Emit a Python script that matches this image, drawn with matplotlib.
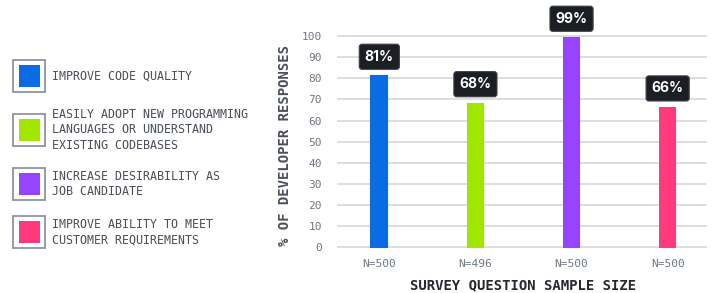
import matplotlib.pyplot as plt
from matplotlib.patches import Rectangle
import numpy as np

categories = ['IMPROVE CODE QUALITY',
              'EASILY ADOPT NEW PROGRAMMING\nLANGUAGES OR UNDERSTAND\nEXISTING CODEBASES',
              'INCREASE DESIRABILITY AS\nJOB CANDIDATE',
              'IMPROVE ABILITY TO MEET\nCUSTOMER REQUIREMENTS']
sample_sizes = ['N=500', 'N=496', 'N=500', 'N=500']
percents = [81, 68, 99, 66]
colors = ['#0A6CE3', '#A0E600', '#9645FF', '#FF3A7C']
yticks = [0, 10, 20, 30, 40, 50, 60, 70, 80, 90, 100]

mono = 'DejaVu Sans Mono'
grid_col = '#d8dce0'
tick_col = '#6e7781'
text_col = '#4a4f57'

fig = plt.figure(figsize=(7.16, 2.93), dpi=100)
ax = fig.add_axes([0.4707, 0.1345, 0.5168, 0.764])

x = np.arange(len(percents))
ax.set_xlim(-0.44, 3.41)
ax.set_ylim(-3, 103)

for t in yticks:
    ax.axhline(t, color=grid_col, lw=1.3, zorder=0)

ax.bar(x, percents, width=0.163, color=colors, edgecolor=colors, lw=1.5, zorder=2)

for xi, p in zip(x, percents):
    ax.annotate(f'{p}%', (xi, p), xytext=(0, 14), textcoords='offset points',
                ha='center', va='center', color='white', fontsize=10,
                family='Inter', weight='bold', zorder=5,
                bbox=dict(boxstyle='round,pad=0.4,rounding_size=0.2',
                          fc='#1b1f24', ec='#3a3f45', lw=0.8))

ax.set_yticks(yticks)
ax.set_yticklabels([str(t) for t in yticks], family=mono, fontsize=8, color=tick_col)
ax.set_xticks(x)
ax.set_xticklabels(sample_sizes, family=mono, fontsize=8, color=tick_col)
ax.tick_params(axis='y', length=0, pad=11)
ax.tick_params(axis='x', length=0, pad=4)
for s in ax.spines.values():
    s.set_visible(False)

fig.text(523 / 716, 1 - 285.5 / 293, 'SURVEY QUESTION SAMPLE SIZE', family=mono,
         fontsize=10, weight='bold', color='#24292f', ha='center', va='center')
fig.text(0.398, 0.505, '% OF DEVELOPER RESPONSES', rotation=90, family=mono,
         fontsize=10, weight='bold', color=text_col, ha='center', va='center')

# legend drawn by hand
legend_y = [76, 130, 184, 232]
H = 293.0
for lab, c, yc in zip(categories, colors, legend_y):
    fy = 1 - yc / H
    fig.patches.append(Rectangle((13 / 716, fy - 16 / H), 32 / 716, 32 / H,
                                 transform=fig.transFigure, fc='white',
                                 ec='#8c959f', lw=1.3))
    fig.patches.append(Rectangle((18.5 / 716, fy - 11 / H), 21 / 716, 22 / H,
                                 transform=fig.transFigure, fc=c, ec='none'))
    fig.text(52 / 716, fy, lab, family=mono, fontsize=8.4, color=text_col,
             ha='left', va='center', linespacing=1.25)

plt.savefig('out.png', dpi=100)
